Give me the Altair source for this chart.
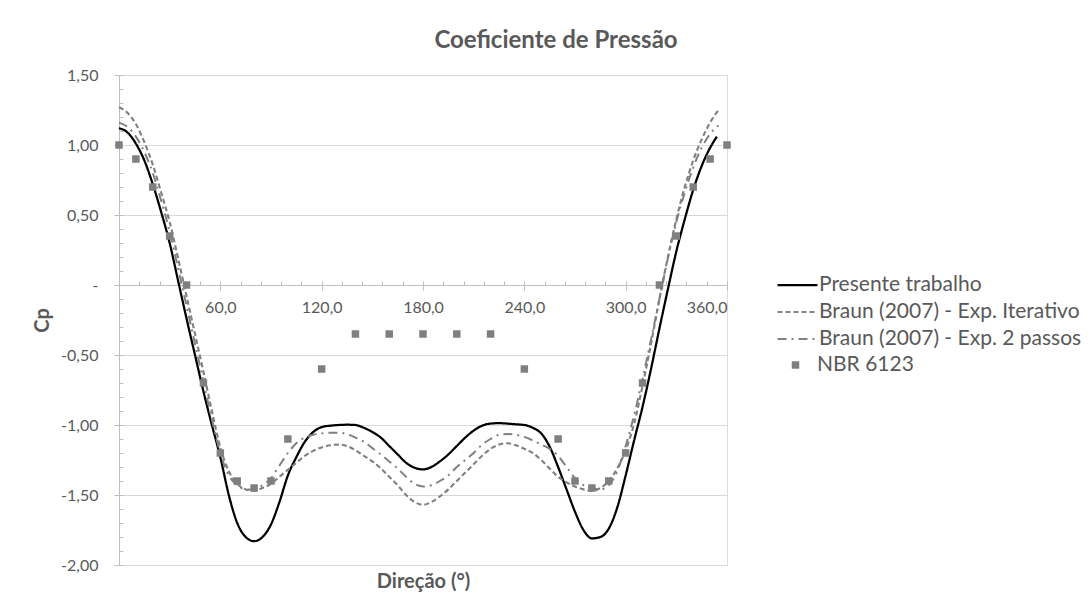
import altair as alt
import pandas as pd

# ---------------- data ----------------
ang_presente = list(range(0, 351, 5)) + [354]
cp_presente = [
    1.12, 1.09, 1.01, 0.89, 0.72, 0.52, 0.30, 0.03, -0.24, -0.50,
    -0.76, -1.00, -1.23, -1.50, -1.70, -1.80, -1.83, -1.80, -1.71, -1.55,
    -1.36, -1.23, -1.12, -1.05, -1.015, -1.005, -1.00, -0.998, -1.00, -1.02,
    -1.05, -1.09, -1.15, -1.21, -1.27, -1.305, -1.317, -1.30, -1.26, -1.21,
    -1.15, -1.09, -1.04, -1.005, -0.99, -0.987, -0.99, -0.995, -1.00, -1.02,
    -1.06, -1.155, -1.30, -1.46, -1.62, -1.75, -1.81, -1.80, -1.74, -1.59,
    -1.36, -1.11, -0.87, -0.60, -0.31, -0.03, 0.24, 0.47, 0.68, 0.85,
    0.98, 1.06,
]

ang_braun = list(range(0, 356, 5))
cp_iterativo = [
    1.27, 1.23, 1.15, 1.02, 0.86, 0.66, 0.45, 0.19, -0.08, -0.35,
    -0.62, -0.90, -1.16, -1.33, -1.42, -1.46, -1.47, -1.45, -1.42, -1.37,
    -1.32, -1.27, -1.22, -1.185, -1.16, -1.145, -1.14, -1.15, -1.18, -1.22,
    -1.26, -1.31, -1.37, -1.43, -1.50, -1.55, -1.57, -1.55, -1.51, -1.46,
    -1.40, -1.34, -1.28, -1.22, -1.17, -1.14, -1.13, -1.145, -1.17, -1.20,
    -1.25, -1.31, -1.37, -1.41, -1.44, -1.46, -1.47, -1.45, -1.40, -1.31,
    -1.18, -0.99, -0.72, -0.42, -0.10, 0.20, 0.47, 0.70, 0.89, 1.04,
    1.16, 1.25,
]
cp_2passos = [
    1.16, 1.13, 1.06, 0.95, 0.80, 0.60, 0.38, 0.12, -0.15, -0.42,
    -0.69, -0.96, -1.20, -1.36, -1.43, -1.46, -1.46, -1.43, -1.38, -1.29,
    -1.20, -1.13, -1.09, -1.07, -1.06, -1.055, -1.055, -1.065, -1.09, -1.12,
    -1.165, -1.21, -1.26, -1.31, -1.37, -1.42, -1.44, -1.43, -1.40, -1.36,
    -1.30, -1.25, -1.20, -1.14, -1.10, -1.07, -1.065, -1.07, -1.085, -1.11,
    -1.14, -1.17, -1.22, -1.30, -1.38, -1.43, -1.45, -1.46, -1.43, -1.33,
    -1.15, -0.93, -0.67, -0.39, -0.10, 0.19, 0.45, 0.66, 0.84, 0.98,
    1.08, 1.14,
]

ang_nbr = [0, 10, 20, 30, 40, 50, 60, 70, 80, 90, 100, 120, 140, 160, 180,
           200, 220, 240, 260, 270, 280, 290, 300, 310, 320, 330, 340, 350, 360]
cp_nbr = [1.00, 0.90, 0.70, 0.35, 0.00, -0.70, -1.20, -1.40, -1.45, -1.40, -1.10,
          -0.60, -0.35, -0.35, -0.35, -0.35, -0.35, -0.60, -1.10, -1.40, -1.45,
          -1.40, -1.20, -0.70, 0.00, 0.35, 0.70, 0.90, 1.00]

series_names = ["Presente trabalho", "Braun (2007) - Exp. Iterativo",
                "Braun (2007) - Exp. 2 passos"]
nbr_name = "NBR 6123"

x_major = [60, 120, 180, 240, 300, 360]
x_minor = list(range(12, 361, 12))
y_major = [-2.0, -1.5, -1.0, -0.5, 0.0, 0.5, 1.0, 1.5]
y_minor = [round(-2 + 0.1 * i, 1) for i in range(36)]

# ---------------- tables ----------------
rows = []
for a, v in zip(ang_presente, cp_presente):
    rows.append({"ang": a, "cp": v, "serie": series_names[0]})
for a, v in zip(ang_braun, cp_iterativo):
    rows.append({"ang": a, "cp": v, "serie": series_names[1]})
for a, v in zip(ang_braun, cp_2passos):
    rows.append({"ang": a, "cp": v, "serie": series_names[2]})
lines_df = pd.DataFrame(rows)
nbr_df = pd.DataFrame({"ang": ang_nbr, "cp": cp_nbr, "fonte": nbr_name})

FONT = "Lato"
TXT = "#595959"
GRID = "#d9d9d9"
AX = "#bfbfbf"
GRAY = "#7f7f7f"

x_scale = alt.Scale(domain=[0, 360], nice=False, zero=False)
y_scale = alt.Scale(domain=[-2, 1.5], nice=False, zero=False)

line_legend = alt.Legend(
    title=None, orient="none", legendX=657, legendY=200,
    symbolType="stroke", symbolSize=1600, symbolStrokeWidth=2,
    labelFont=FONT, labelFontSize=21, labelColor=TXT, labelOffset=0,
    labelLimit=500, clipHeight=20, rowPadding=6, padding=0,
)

lines = alt.Chart(lines_df).mark_line(interpolate="monotone").encode(
    x=alt.X("ang:Q", scale=x_scale, axis=alt.Axis(
        orient="bottom", offset=-280, values=x_major, title=None, grid=False,
        labelExpr="replace(format(datum.value, '.1f'), '.', ',')",
        domainColor=AX, tickColor=AX, tickSize=5, labelPadding=9,
        labelFont=FONT, labelFontSize=16, labelColor=TXT)),
    y=alt.Y("cp:Q", scale=y_scale, axis=alt.Axis(
        orient="left", values=y_major, grid=True, gridColor=GRID,
        labelExpr="datum.value == 0 ? '-\u00a0\u00a0\u00a0\u00a0' : (datum.value < 0 ? '-' : '') + replace(format(abs(datum.value), '.2f'), '.', ',')",
        domainColor=AX, tickColor=AX, tickSize=5, labelPadding=16,
        labelFont=FONT, labelFontSize=16, labelColor=TXT,
        title="Cp", titleX=-77, titleY=245, titleAngle=270, titleAlign="center",
        titleBaseline="middle", titleFont=FONT, titleFontSize=20,
        titleFontWeight="bold", titleColor=TXT)),
    color=alt.Color("serie:N", sort=series_names,
                    scale=alt.Scale(domain=series_names, range=["#000000", "#808080", "#808080"]),
                    legend=line_legend),
    strokeDash=alt.StrokeDash("serie:N", sort=series_names,
                              scale=alt.Scale(domain=series_names, range=[[1, 0], [5, 3], [9, 5, 2, 5]]),
                              legend=line_legend),
    strokeWidth=alt.StrokeWidth("serie:N",
                                scale=alt.Scale(domain=series_names, range=[2.25, 2, 2]),
                                legend=None),
)

nbr = alt.Chart(nbr_df).mark_point(filled=True, size=56, opacity=1).encode(
    x=alt.X("ang:Q", scale=x_scale, axis=alt.Axis(
        orient="bottom", title="Direção (°)", labels=False, ticks=False,
        domain=False, grid=False, titlePadding=6, titleFont=FONT,
        titleFontSize=20, titleFontWeight="bold", titleColor=TXT)),
    y=alt.Y("cp:Q", scale=y_scale, axis=alt.Axis(
        orient="left", values=y_minor, labels=False, domain=False, grid=False,
        tickSize=4, offset=-4, tickColor=AX, title=None)),
    shape=alt.Shape("fonte:N", scale=alt.Scale(domain=[nbr_name], range=["square"]),
                    legend=alt.Legend(
                        title=None, orient="none", legendX=666, legendY=280,
                        symbolSize=56, symbolFillColor=GRAY, symbolStrokeColor=GRAY,
                        symbolStrokeWidth=0, labelFont=FONT, labelFontSize=21,
                        labelColor=TXT, labelOffset=11, clipHeight=20, padding=0)),
    color=alt.value(GRAY),
)

minor_x = alt.Chart(nbr_df).mark_point(opacity=0).encode(
    x=alt.X("ang:Q", scale=x_scale, axis=alt.Axis(
        orient="bottom", offset=-284, values=x_minor, labels=False,
        domain=False, grid=False, tickSize=4, tickColor=AX, title=None)),
    y=alt.Y("cp:Q", scale=y_scale, axis=None),
)

chart = alt.layer(lines, nbr, minor_x).resolve_axis(
    x="independent", y="independent"
).properties(
    width=608, height=490,
    autosize=alt.AutoSizeParams(type="none"),
    padding={"left": 111, "top": 67, "right": 355, "bottom": 36},
    title=alt.TitleParams(
        "Coeficiente de Pressão", font=FONT, fontSize=24, fontWeight="bold",
        color=TXT, anchor="middle", frame="group", dx=133, dy=32, offset=27,
        baseline="alphabetic"),
).configure_view(stroke=None).configure(background="white")

chart.save("out.html", embed_options={"renderer": "svg", "actions": False})
